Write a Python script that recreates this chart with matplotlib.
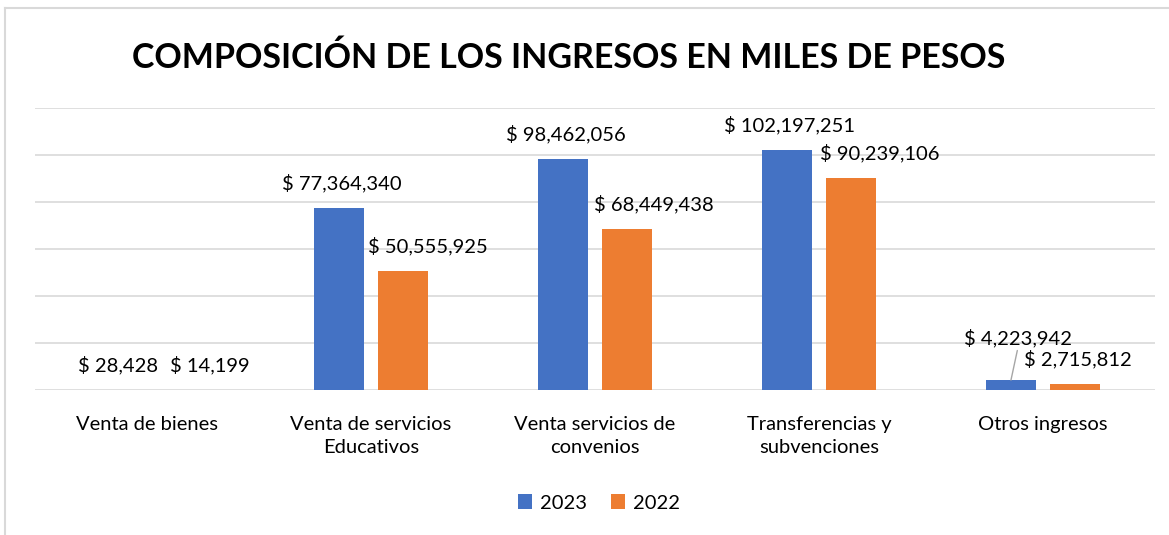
import numpy as np
import matplotlib
matplotlib.use("Agg")
import matplotlib.pyplot as plt
from matplotlib.lines import Line2D

# data
categorias = ["Venta de bienes", "Venta de servicios\nEducativos",
              "Venta servicios de\nconvenios", "Transferencias y\nsubvenciones",
              "Otros ingresos"]
ingresos_2023 = [28428, 77364340, 98462056, 102197251, 4223942]
ingresos_2022 = [14199, 50555925, 68449438, 90239106, 2715812]

azul = "#4472C4"
naranja = "#ED7D31"
gris = "#D9D9D9"
fs = 14.5

plt.rcParams['font.family'] = ['Lato', 'DejaVu Sans']

fig = plt.figure(figsize=(11.69, 5.35), dpi=100)
ax = fig.add_axes([35/1169, 1-390/535, 1120/1169, 282/535])

x = np.arange(len(categorias))
ancho = 0.223
sep = 0.143
b1 = ax.bar(x - sep, ingresos_2023, ancho, color=azul, label="2023")
b2 = ax.bar(x + sep, ingresos_2022, ancho, color=naranja, label="2022")

ax.set_xlim(-0.5, 4.5)
ax.set_ylim(0, 120e6)
ax.set_yticks(np.arange(0, 120e6 + 1, 20e6))
ax.yaxis.grid(True, color=gris, linewidth=1.2)
ax.set_axisbelow(True)
ax.tick_params(axis="y", length=0, labelleft=False)
ax.tick_params(axis="x", length=0, pad=19, labelsize=fs)
ax.set_xticks(x)
ax.set_xticklabels(categorias, linespacing=1.4)
for s in ax.spines.values():
    s.set_visible(False)

def etiqueta(v):
    return "$ {:,}".format(v)

# label offsets (points) like excel placed them
off_2023 = [(2, 18), (2, 18), (2, 18), (2, 18), (5, 30)]
off_2022 = [(22, 18), (18, 18), (19, 18), (21, 18), (2, 18)]

for i in range(len(categorias)):
    xi = x[i] - sep
    yi = ingresos_2023[i]
    dx, dy = off_2023[i]
    if i == 4:
        ax.annotate(etiqueta(yi), (xi, yi), xytext=(dx, dy), textcoords="offset points",
                    ha="center", va="center", fontsize=fs,
                    arrowprops=dict(arrowstyle="-", color="#A6A6A6", lw=1,
                                    shrinkA=0, shrinkB=0, relpos=(0.5, 0.0)))
    else:
        ax.annotate(etiqueta(yi), (xi, yi), xytext=(dx, dy), textcoords="offset points",
                    ha="center", va="center", fontsize=fs)
    xi = x[i] + sep
    yi = ingresos_2022[i]
    dx, dy = off_2022[i]
    ax.annotate(etiqueta(yi), (xi, yi), xytext=(dx, dy), textcoords="offset points",
                ha="center", va="center", fontsize=fs)

fig.text(569/1169, 1-58/535, "COMPOSICIÓN DE LOS INGRESOS EN MILES DE PESOS",
         ha="center", va="center", fontsize=24.5, fontweight="bold")

fig.legend(handles=[b1, b2], loc="center", bbox_to_anchor=(599/1169, 1-503/535),
           ncol=2, frameon=False, fontsize=fs, handlelength=0.7, handleheight=0.7,
           handletextpad=0.4, columnspacing=1.2)

# chart border (left and top)
fig.add_artist(Line2D([5/1169, 5/1169], [0, 1-8/535], color=gris, lw=1.5))
fig.add_artist(Line2D([5/1169, 1], [1-8/535, 1-8/535], color=gris, lw=1.5))

fig.savefig("out.png", dpi=100)
